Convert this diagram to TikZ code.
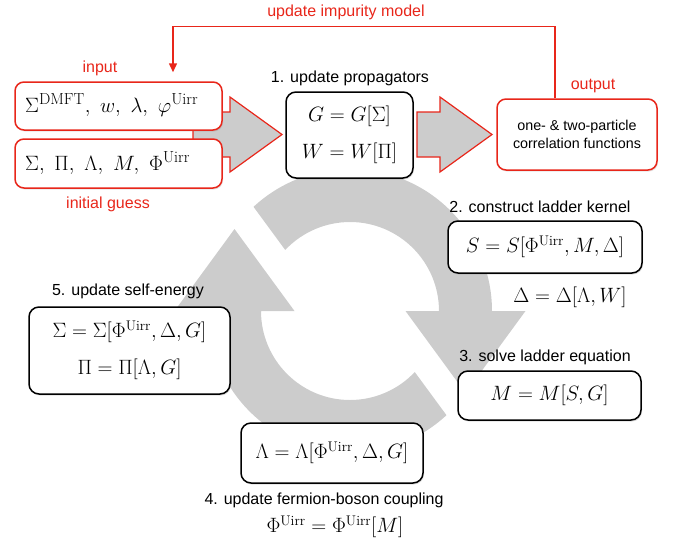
\documentclass[tikz,border=0pt]{standalone}
\usepackage{fontspec}
\setsansfont{Liberation Sans}
\usetikzlibrary{arrows.meta,shadows,calc}
\DeclareMathSizes{21}{21}{16}{12}
\definecolor{fred}{RGB}{232,38,26}
\definecolor{fgray}{RGB}{204,204,204}
\tikzset{
  lbl/.style={font=\sffamily\fontsize{16}{19}\selectfont, inner sep=0pt},
  rlbl/.style={lbl, text=fred},
  mth/.style={font=\fontsize{20}{37}\selectfont, inner sep=0pt, align=center},
  imth/.style={font=\fontsize{21}{25}\selectfont, inner sep=0pt},
  bbox/.style={draw=black, line width=1.5pt, rounded corners=10pt, fill=white,
    drop shadow={opacity=0.25, shadow xshift=1pt, shadow yshift=-1.5pt}},
  rbox/.style={draw=fred, line width=1.5pt, rounded corners=9pt, fill=white,
    drop shadow={opacity=0.2, shadow xshift=1pt, shadow yshift=-1.5pt}},
  blockarrow/.style={fill=fgray, draw=fred, line width=1.2pt, line join=miter},
  ring/.style={fill=fgray, draw=none},
  redline/.style={draw=fred, line width=1.5pt, -{Triangle[length=9pt,width=8pt]}},
}
\begin{document}
\begin{tikzpicture}[x=1pt,y=-1pt]
\useasboundingbox (0,0) rectangle (675,542);
% ring arrows
\begin{scope}[shift={(350,311)}]
  \fill[ring] (-132.8:142) arc[start angle=-132.8, end angle=0, radius=142]
     -- (175.5,0) -- (115.5,82) -- (55.5,0) -- (89,0)
     arc[start angle=0, end angle=-136.7, radius=89] -- cycle;
  \begin{scope}[rotate=180]
  \fill[ring] (-132.8:142) arc[start angle=-132.8, end angle=0, radius=142]
     -- (175.5,0) -- (115.5,82) -- (55.5,0) -- (89,0)
     arc[start angle=0, end angle=-136.7, radius=89] -- cycle;
  \end{scope}
\end{scope}
% block arrows
\draw[blockarrow] (193,112) -- (230,112) -- (230,97) -- (282,134.5) -- (230,172) -- (230,157) -- (193,157) -- cycle;
\draw[blockarrow] (417,112) -- (440,112) -- (440,97) -- (492,134.5) -- (440,172) -- (440,157) -- (417,157) -- cycle;
% input boxes
\node[rbox, minimum width=207pt, minimum height=48pt] (in1) at (118.5,106) {};
\node[rbox, minimum width=207pt, minimum height=49pt] (in2) at (118.5,163.5) {};
\node[imth, anchor=west] (in1t) at (25,105) {$\Sigma^{\mathrm{DMFT}},\ w,\ \lambda,\ \varphi^{\mathrm{Uirr}}$};
\node[imth, anchor=west] (in2t) at (25,163) {$\Sigma,\ \Pi,\ \Lambda,\ M,\ \Phi^{\mathrm{Uirr}}$};
\node[rlbl] (linput) at (100,68) {input};
\node[rlbl] (lguess) at (108,204) {initial guess};
% G box
\node[bbox, minimum width=127pt, minimum height=86pt] (gbox) at (349.5,135) {};
\node[mth] (gboxt) at (gbox.center) {$G=G[\Sigma]$\\$W=W[\Pi]$};
\node[lbl] (l1) at (350,78) {1. update propagators};
% output box
\node[rbox, minimum width=160pt, minimum height=71pt] (out) at (577,134.5) {};
\node[lbl, font=\sffamily\fontsize{14.3}{18}\selectfont, align=center] (outt) at (out.center) {one- \& two-particle\\correlation functions};
\node[rlbl] (loutput) at (593,86) {output};
% feedback line
\draw[redline, shorten >=9pt] ([xshift=-22pt]out.north) -- ++(0,-72) -| ([xshift=54.5pt]in1.north);
\node[rlbl] (lupd) at (346,12) {update impurity model};
% S box
\node[bbox, minimum width=194pt, minimum height=52pt] (sbox) at (545,247) {};
\node[mth] (sboxt) at (sbox.center) {$S=S[\Phi^{\mathrm{Uirr}},M,\Delta]$};
\node[lbl] (l2) at (540,207) {2. construct ladder kernel};
\node[mth] (delta) at (570,297) {$\Delta=\Delta[\Lambda,W]$};
% M box
\node[bbox, minimum width=183pt, minimum height=49pt] (mbox) at (549.5,395.5) {};
\node[mth] (mboxt) at (mbox.center) {$M=M[S,G]$};
\node[lbl] (l3) at (545,357) {3. solve ladder equation};
% Sigma box
\node[bbox, minimum width=201pt, minimum height=87pt] (sigbox) at (129.5,350.5) {};
\node[mth] (sigboxt) at (sigbox.center) {$\Sigma=\Sigma[\Phi^{\mathrm{Uirr}},\Delta,G]$\\$\Pi=\Pi[\Lambda,G]$};
\node[lbl] (l5) at (128,291) {5. update self-energy};
% Lambda box
\node[bbox, minimum width=182pt, minimum height=60pt] (lambox) at (332,453) {};
\node[mth] (lamboxt) at (lambox.center) {$\Lambda=\Lambda[\Phi^{\mathrm{Uirr}},\Delta,G]$};
\node[lbl] (l4) at (324,500) {4. update fermion-boson coupling};
\node[mth] (phi) at (335,527) {$\Phi^{\mathrm{Uirr}}=\Phi^{\mathrm{Uirr}}[M]$};
\end{tikzpicture}
\end{document}
